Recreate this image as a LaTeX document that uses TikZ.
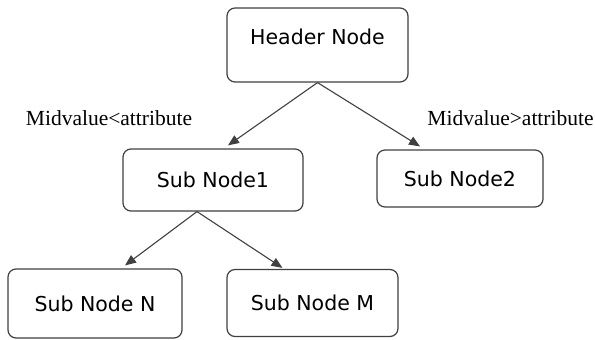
\documentclass[tikz,border=0pt]{standalone}
\usepackage{fontspec}
\setmainfont{Liberation Serif}
\newfontfamily\boxfont{DejaVu Sans}
\usetikzlibrary{arrows.meta,positioning}
\definecolor{edgegray}{HTML}{404040}
\tikzset{
  tbox/.style={rectangle, rounded corners=8pt, draw=edgegray, line width=1.2pt,
               align=center, font=\boxfont\fontsize{20.5}{24}\selectfont,
               text height=15pt, text depth=0pt, fill=white, inner sep=0pt},
  hbox/.style={tbox, text height=12pt, text depth=12pt},
  cond/.style={font=\fontsize{21.5}{24}\selectfont, inner sep=0pt},
  arrow/.style={-{Triangle[length=11pt, width=9pt]}, line width=1.1pt, draw=edgegray}
}
\begin{document}
\begin{tikzpicture}[x=1pt, y=-1pt]
  \useasboundingbox (0,0) rectangle (595,340);
  \node[hbox, minimum width=181pt, minimum height=74pt] (hdr) at (317.5,45) {Header Node};
  \node[tbox, minimum width=180pt, minimum height=62pt] (sub1) at (213,180) {Sub Node1};
  \node[tbox, minimum width=166pt, minimum height=57pt] (sub2) at (460,178.5) {Sub Node2};
  \node[tbox, minimum width=174pt, minimum height=69pt] (subn) at (95,303.5) {Sub Node N};
  \node[tbox, minimum width=171pt, minimum height=67pt] (subm) at (312.5,303) {Sub Node M};
  % branch conditions
  \node[cond] (ltlbl) at (109,118) {Midvalue<attribute};
  \node[cond] (gtlbl) at (510.5,118) {Midvalue>attribute};
  \draw[arrow] (hdr.south) -- ([xshift=15pt, yshift=3pt]sub1.north);
  \draw[arrow] (hdr.south) -- ([xshift=-40pt, yshift=3pt]sub2.north);
  \draw[arrow] ([xshift=-16pt]sub1.south) -- ([xshift=30pt, yshift=3pt]subn.north);
  \draw[arrow] ([xshift=-16pt]sub1.south) -- ([xshift=-30pt, yshift=1pt]subm.north);
\end{tikzpicture}
\end{document}
